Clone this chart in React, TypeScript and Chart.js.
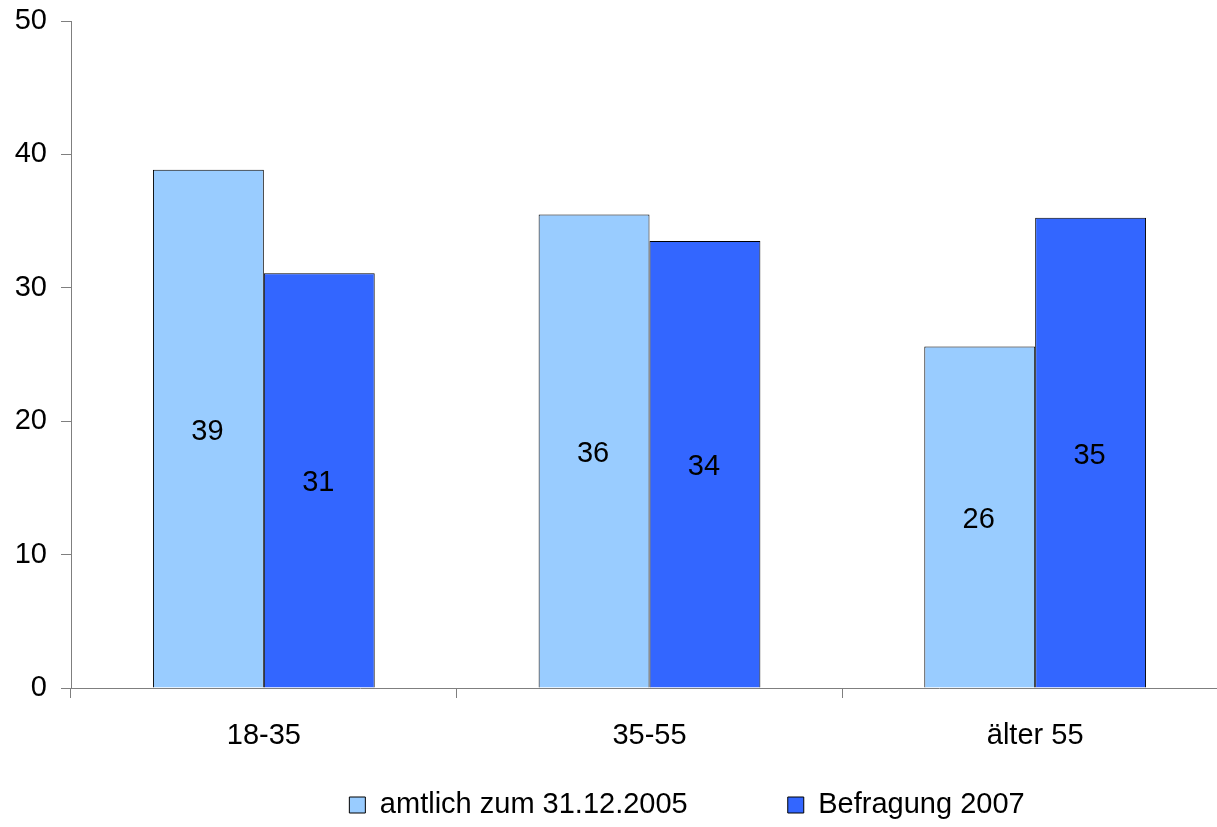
import React, { useEffect, useRef } from "react";
import { Chart, registerables } from "chart.js";

Chart.register(...registerables);

const categories = ["18-35", "35-55", "älter 55"];
const seriesNames = ["amtlich zum 31.12.2005", "Befragung 2007"];
const amtlich2005 = [38.85, 35.5, 25.6];
const befragung2007 = [31.1, 33.5, 35.26];
const yTicks = [0, 10, 20, 30, 40, 50];

const FONT = "'Liberation Sans', Arial, sans-serif";
const AXIS_GRAY = "#7f7f7f";
const LEGEND_H = 74;

const valueLabels = {
  id: "valueLabels",
  afterDatasetsDraw(chart: any) {
    const ctx = chart.ctx;
    ctx.save();
    ctx.font = `29px ${FONT}`;
    ctx.fillStyle = "#000";
    ctx.textAlign = "center";
    ctx.textBaseline = "middle";
    chart.data.datasets.forEach((ds: any, i: number) => {
      const meta = chart.getDatasetMeta(i);
      meta.data.forEach((bar: any, j: number) => {
        const v = ds.data[j];
        const yMid = (bar.y + bar.base) / 2;
        ctx.fillText(String(Math.round(v)), bar.x - 1, yMid + 3);
      });
    });
    ctx.restore();
  },
};

const legendFix = {
  id: "legendFix",
  beforeLayout(chart: any) {
    const lg = chart.legend;
    if (!lg || lg.__wrapped) return;
    const orig = lg.fit;
    lg.fit = function () {
      orig.call(this);
      this.height = LEGEND_H;
    };
    lg.__wrapped = true;
  },
  afterLayout(chart: any) {
    const lg = chart.legend;
    if (!lg) return;
    const pad = lg.options.labels.padding;
    const itemH = lg.options.labels.font.size;
    const targetCenter = 805;
    const currentCenter = lg.top + pad + itemH / 2;
    const dy = targetCenter - currentCenter;
    const dx = 73;
    lg.left += dx;
    lg.right += dx;
    lg.top += dy;
    lg.bottom = chart.height + 40;
    lg.height = lg.bottom - lg.top;
  },
};

export default function App() {
  const ref = useRef<HTMLCanvasElement | null>(null);

  useEffect(() => {
    if (!ref.current) return;
    const chart = new Chart(ref.current, {
      type: "bar",
      data: {
        labels: categories,
        datasets: [
          {
            label: seriesNames[0],
            data: amtlich2005,
            backgroundColor: "#99CCFF",
            borderColor: "#000000",
            borderWidth: 1,
            categoryPercentage: 0.575,
            barPercentage: 1,
          },
          {
            label: seriesNames[1],
            data: befragung2007,
            backgroundColor: "#3366FF",
            borderColor: "#000000",
            borderWidth: 1,
            categoryPercentage: 0.575,
            barPercentage: 1,
          },
        ],
      },
      options: {
        animation: false,
        responsive: false,
        devicePixelRatio: 1,
        layout: { padding: { top: 21, left: 0, right: 0, bottom: 0 } },
        plugins: {
          tooltip: { enabled: false },
          legend: {
            position: "bottom",
            align: "center",
            labels: {
              boxWidth: 16,
              boxHeight: 16,
              padding: 100,
              color: "#000",
              font: { family: FONT, size: 29 },
            },
          },
        },
        scales: {
          x: {
            grid: {
              offset: true,
              drawOnChartArea: false,
              drawTicks: true,
              tickLength: 10,
              tickColor: AXIS_GRAY,
              color: AXIS_GRAY,
            },
            border: { color: AXIS_GRAY, width: 1 },
            ticks: {
              color: "#000",
              font: { family: FONT, size: 29 },
              padding: 21,
              maxRotation: 0,
            },
            afterFit(scale: any) {
              scale.height = 827 - LEGEND_H - 688;
              scale.paddingLeft = 0;
              scale.paddingRight = 0;
            },
          },
          y: {
            min: 0,
            max: 50,
            afterBuildTicks(scale: any) {
              scale.ticks = yTicks.map((v) => ({ value: v }));
            },
            grid: {
              drawOnChartArea: false,
              drawTicks: true,
              tickLength: 10,
              tickColor: AXIS_GRAY,
              color: AXIS_GRAY,
            },
            border: { color: AXIS_GRAY, width: 1 },
            ticks: {
              color: "#000",
              font: { family: FONT, size: 29 },
              padding: 14,
            },
            afterFit(scale: any) {
              scale.width = 71;
              scale.paddingTop = 0;
              scale.paddingBottom = 0;
            },
          },
        },
      },
      plugins: [valueLabels, legendFix],
    });
    return () => chart.destroy();
  }, []);

  return (
    <div
      style={{
        position: "fixed",
        left: 0,
        top: 0,
        width: 1217,
        height: 827,
        overflow: "hidden",
        background: "#fff",
      }}
    >
      <canvas ref={ref} width={1228} height={827} style={{ display: "block" }} />
    </div>
  );
}
